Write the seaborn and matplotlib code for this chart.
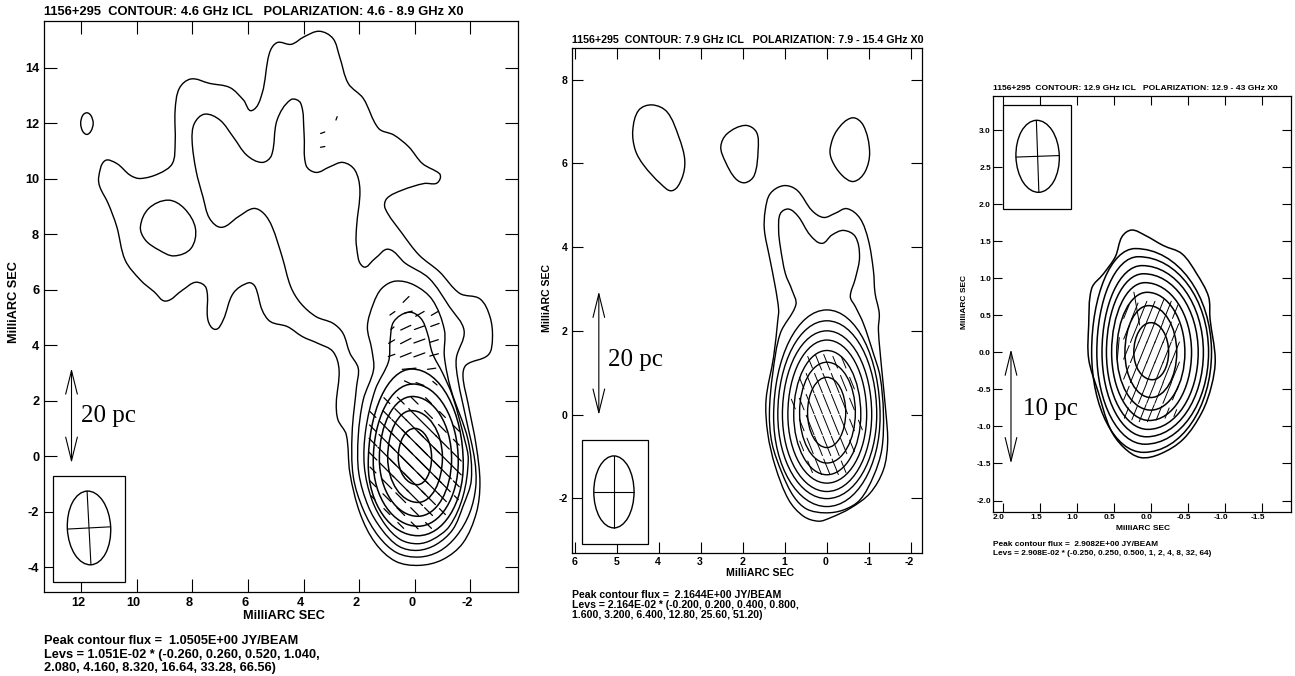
import numpy as np
import pandas as pd
import matplotlib
matplotlib.use("Agg")
import matplotlib.pyplot as plt
import seaborn as sns
from matplotlib.patches import Ellipse, PathPatch, Rectangle
from matplotlib.path import Path
from matplotlib.transforms import ScaledTranslation

# contour outlines, (x mas, y mas)
p1_outer = [(11.37,10.07),(11.15,10.65),(10.72,10.55),(10.24,10.13),(9.87,10.01),(9.20,10.19),(8.72,10.55),
    (8.62,11.27),(8.62,12.48),(8.47,13.26),(8.05,13.60),(7.38,13.44),(6.65,13.29),(6.16,12.84),(5.86,12.46),
    (5.49,13.08),(5.23,14.52),(4.95,14.91),(4.44,14.85),(3.98,15.12),(3.43,15.32),(2.94,15.06),(2.70,14.40),
    (2.39,13.44),(1.85,12.90),(1.30,11.82),(0.75,11.58),(0.21,11.15),(-0.28,10.55),(-0.89,10.19),(-0.92,10.01),
    (-0.77,9.83),(-0.34,9.83),(0.45,9.59),(1.00,9.29),(1.06,8.93),(0.45,8.03),(-0.16,7.25),(-0.89,6.65),
    (-1.62,5.87),(-2.35,5.67),(-2.71,5.03),(-2.80,4.25),(-2.65,3.65),(-1.86,3.29),(-1.74,2.87),(-1.92,1.91),
    (-2.22,0.35),(-2.35,-0.97),(-2.22,-2.05),(-1.74,-3.13),(-1.01,-3.73),(-0.16,-3.94),(0.69,-3.79),(1.42,-3.13),
    (1.97,-2.05),(2.33,-0.61),(2.46,0.77),(2.76,1.31),(2.82,1.91),(2.72,3.11),(2.94,3.77),(3.49,4.07),(4.04,4.31),
    (4.58,4.67),(5.19,4.85),(5.49,5.27),(5.74,6.11),(5.98,6.25),(6.53,5.87),(6.89,4.91),(7.17,4.57),(7.44,4.91),
    (7.50,6.05),(7.87,6.27),(8.35,5.99),(8.96,5.59),(9.38,5.93),(9.87,6.35),(10.42,7.07),(10.72,8.27),(11.03,9.11),
    (11.33,9.71)]
p1_second = [(8.01,11.39),(7.93,11.99),(7.56,12.33),(7.01,12.12),(6.53,11.51),(6.04,10.85),(5.49,10.59),(5.15,10.85),
    (4.95,12.12),(4.46,12.85),(4.10,12.72),(3.98,11.64),(3.91,10.49),(3.55,10.23),(3.06,10.43),(2.58,10.59),
    (2.15,10.31),(1.97,9.59),(2.09,8.27),(2.09,7.55),(1.85,6.83),(1.42,7.13),(0.94,7.46),(0.33,6.95),(-0.52,6.41),
    (-1.25,5.39),(-1.78,4.52),(-1.50,3.53),(-1.56,2.75),(-1.86,1.31),(-2.16,-0.13),(-2.20,-1.09),
    (-1.98,-2.05),(-1.50,-2.89),(-0.89,-3.43),(-0.16,-3.64),(0.63,-3.49),(1.30,-2.89),(1.85,-1.93),(2.21,-0.73),
    (2.25,0.83),(2.09,2.51),(2.03,3.17),(2.33,3.71),(2.58,4.43),(2.94,4.79),(3.55,5.03),(4.10,5.51),(4.46,6.11),
    (4.77,7.19),(5.13,8.27),(5.43,8.75),(5.80,8.93),(6.35,8.63),(6.95,8.25),(7.38,8.57),(7.62,9.35),(7.87,10.31)]
p1_third = [(0.69,6.31),(0.02,6.17),(-0.64,5.63),(-1.07,4.55),(-1.07,3.59),(-1.31,2.39),(-1.92,0.59),(-2.04,-0.85),
    (-1.74,-1.81),(-1.37,-2.65),(-0.77,-3.19),(-0.10,-3.40),(0.57,-3.25),(1.18,-2.65),(1.67,-1.81),(2.01,-0.61),
    (2.03,0.71),(1.85,2.03),(1.48,3.11),(1.54,3.83),(1.70,4.67),(1.48,5.51),(1.18,6.05)]
p1_fourth = [(0.21,5.19),(-0.22,4.97),(-0.46,4.43),(-0.64,3.71),(-1.01,2.99),(-1.37,2.15),(-1.80,0.59),(-1.93,-0.13),
    (-1.74,-1.45),(-1.25,-2.53),(-0.64,-3.01),(-0.10,-3.16),(0.51,-3.01),(1.06,-2.47),(1.54,-1.57),(1.81,-0.37),
    (1.76,0.95),(1.42,2.39),(0.94,3.41),(0.88,4.19),(0.75,4.85)]
p1_blob = [(9.87,8.27),(9.57,8.93),(8.87,9.23),(8.29,8.93),(7.89,8.21),(8.05,7.49),(8.66,7.22),(9.20,7.43),(9.69,7.79)]
p1_speck = [(12.02,12.0),(11.95,12.28),(11.8,12.38),(11.65,12.28),(11.57,12.0),(11.65,11.72),(11.8,11.6),(11.95,11.72)]

p2_outer = [(1.47,4.88),(1.35,5.28),(1.03,5.47),(0.71,5.36),(0.36,4.88),(0.08,4.71),(-0.20,4.81),(-0.48,4.92),(-0.79,4.69),
    (-0.99,4.17),(-1.11,3.45),(-1.15,2.90),(-1.25,2.42),(-1.23,2.02),(-1.31,1.07),(-1.41,0.03),(-1.45,-0.68),(-1.35,-1.32),
    (-1.03,-1.88),(-0.56,-2.24),(-0.08,-2.47),(0.20,-2.55),(0.56,-2.43),(0.91,-2.04),(1.23,-1.24),(1.41,-0.45),(1.45,0.35),
    (1.27,1.38),(1.17,2.26),(1.15,2.50),(1.23,3.05),(1.37,3.77),(1.49,4.41)]
p2_second = [(1.15,4.41),(1.11,4.80),(0.91,4.91),(0.68,4.73),(0.40,4.29),(0.12,4.09),(-0.12,4.29),(-0.40,4.40),(-0.68,4.25),
    (-0.78,3.77),(-0.68,3.25),(-0.56,2.82),(-0.68,2.58),(-0.87,2.18),(-1.11,1.46),(-1.27,0.91),(-1.35,0.03),(-1.31,-0.84),
    (-1.11,-1.48),(-0.79,-2.04),(-0.40,-2.28),(0.04,-2.35),(0.48,-2.26),(0.79,-1.96),(1.07,-1.40),(1.31,-0.68),(1.37,0.03),
    (1.29,0.99),(1.11,1.94),(0.74,2.62),(0.83,2.97),(0.99,3.37),(1.11,4.01)]
p2_blob_a = [(4.63,6.79),(4.49,7.27),(4.17,7.40),(3.81,7.23),(3.53,6.63),(3.39,6.08),(3.46,5.64),(3.69,5.35),(3.97,5.52),(4.37,5.96),(4.57,6.32)]
p2_blob_b = [(2.53,6.40),(2.38,6.71),(1.95,6.91),(1.68,6.75),(1.64,6.32),(1.73,5.72),(1.95,5.54),(2.18,5.64),(2.42,6.04)]
p2_blob_c = [(-0.08,6.36),(-0.24,6.79),(-0.60,7.09),(-0.87,6.91),(-1.02,6.28),(-0.91,5.80),(-0.64,5.57),(-0.36,5.72),(-0.12,6.08)]

p3_outer = [(0.84,0.36),(0.80,0.86),(0.64,1.06),(0.48,1.29),(0.39,1.56),(0.26,1.65),(0.08,1.58),(-0.17,1.44),(-0.42,1.33),
    (-0.62,1.06),(-0.78,0.75),(-0.80,0.45),(-0.87,-0.09),(-0.82,-0.45),(-0.69,-0.81),(-0.44,-1.17),(-0.13,-1.37),(0.14,-1.42),
    (0.37,-1.28),(0.55,-1.03),(0.71,-0.54),(0.84,-0.09)]

# inner, nearly elliptical contours: extents of each ring
p1_top_y = [1.0, 1.64, 2.15, 2.6, 3.14]
p1_top_x = [0.0, 0.12, 0.08, 0.06, 0.1]
p1_bot_y = [-1.03, -1.67, -2.17, -2.53, -2.87]
p1_bot_x = [-0.1, -0.12, -0.12, -0.12, -0.12]
p1_left = [0.59, 0.97, 1.27, 1.49, 1.67]
p1_right = [-0.61, -1.0, -1.33, -1.57, -1.75]
p1_mid = [-0.05, -0.05, -0.1, -0.2, -0.3]

p2_top_y = [0.89, 1.25, 1.53, 1.78, 2.0, 2.24, 2.5]
p2_top_x = [0.0, 0.0, 0.0, 0.0, 0.0, 0.0, 0.0]
p2_bot_y = [-0.79, -1.16, -1.44, -1.64, -1.84, -2.01, -2.2]
p2_bot_x = [0.0, 0.0, 0.0, 0.0, 0.0, 0.0, 0.0]
p2_left = [0.46, 0.65, 0.79, 0.93, 1.06, 1.17, 1.27]
p2_right = [-0.45, -0.68, -0.81, -0.95, -1.07, -1.19, -1.27]
p2_mid = [0.05, 0.05, 0.0, 0.0, 0.0, 0.0, -0.05]

p3_top_y = [0.40, 0.63, 0.81, 0.94, 1.06, 1.17, 1.29, 1.40]
p3_top_x = [0.0, 0.03, 0.05, 0.08, 0.10, 0.12, 0.17, 0.21]
p3_bot_y = [-0.37, -0.61, -0.78, -0.92, -1.04, -1.14, -1.24, -1.35]
p3_bot_x = [-0.02, 0.0, 0.0, 0.02, 0.04, 0.06, 0.08, 0.10]
p3_left = [0.23, 0.35, 0.46, 0.53, 0.60, 0.66, 0.73, 0.80]
p3_right = [-0.24, -0.35, -0.46, -0.55, -0.64, -0.71, -0.78, -0.82]
p3_mid = [0.0, 0.0, 0.0, 0.0, 0.0, 0.0, 0.0, 0.0]

# polarization sticks: grid of lengths, one angle
p1_pol_xs = [1.5, 1, 0.5, 0, -0.5, -1, -1.5]
p1_pol_ys = [2, 1.5, 1, 0.5, 0, -0.5, -1, -1.5, -2, -2.5]
p1_pol_len = [[0,0.3,0.35,0.35,0.3,0,0],[0.3,0.4,0.6,0.6,0.4,0.3,0],[0.35,0.7,0.9,0.9,0.8,0.4,0.3],[0.4,0.8,1.2,1.3,1.1,0.7,0.3],
    [0.4,0.9,1.3,1.5,1.3,0.9,0.5],[0.3,0.7,1.1,1.4,1.3,0.9,0.5],[0.3,0.5,0.8,1.1,1.1,0.8,0.3],[0.2,0.4,0.5,0.8,0.7,0.4,0.2],
    [0,0.3,0.4,0.4,0.4,0.3,0],[0,0,0.3,0.35,0.3,0,0]]
p1_pol_angle = -45
# the separate upper sticks of the first map: x, y, length, angle
p1_sticks = [(0.31,5.65,0.3,45),(0.80,5.15,0.22,35),(0.23,5.19,0.3,15),(-0.19,5.13,0.35,30),(-0.73,5.15,0.3,30),
    (0.32,4.63,0.4,25),(-0.17,4.63,0.38,20),(-0.73,4.73,0.32,20),(0.80,4.61,0.15,40),(0.32,4.15,0.42,27),(-0.17,4.15,0.42,20),
    (-0.70,4.15,0.32,18),(0.83,4.13,0.25,30),(0.32,3.65,0.42,22),(-0.17,3.65,0.42,20),(-0.70,3.65,0.32,15),(0.83,3.63,0.25,20),
    (0.20,3.15,0.5,5),(-0.61,3.15,0.3,8),(0.23,2.65,0.3,-25),(-0.19,2.60,0.3,-20),(-0.73,2.63,0.2,-40),
    (2.81,12.18,0.13,70),(3.31,11.66,0.16,20),(3.31,11.15,0.16,10)]

p2_pol_xs = [0.8, 0.6, 0.4, 0.2, 0, -0.2, -0.4, -0.6, -0.8]
p2_pol_ys = [1.25, 0.75, 0.25, -0.25, -0.75, -1.25]
p2_pol_len = [[0,0,0.3,0.4,0.4,0.3,0.3,0,0],[0,0.3,0.5,0.5,0.5,0.5,0.4,0.3,0],[0.25,0.3,0.5,0.5,0.5,0.5,0.5,0.3,0],
    [0,0.3,0.5,0.5,0.5,0.5,0.5,0.3,0.25],[0,0.25,0.4,0.5,0.5,0.5,0.4,0.3,0],[0,0,0.3,0.4,0.4,0.4,0.3,0,0]]
p2_pol_angle = -68

p3_pol_xs = [0.33, 0.22, 0.11, 0, -0.11, -0.22, -0.33]
p3_pol_ys = [0.55, 0.27, 0, -0.27, -0.55, -0.82]
p3_pol_len = [[0.2,0.25,0.3,0.3,0.35,0.3,0.2],[0.2,0.3,0.3,0.3,0.3,0.3,0.25],[0.2,0.3,0.3,0.3,0.3,0.3,0.3],
    [0.2,0.3,0.3,0.3,0.3,0.3,0.3],[0.2,0.3,0.3,0.3,0.3,0.3,0.2],[0.15,0.2,0.25,0.25,0.2,0.15,0.1]]
p3_pol_angle = 68
p3_sticks = [(0.19,0.59,0.45,-80),(0.44,0.05,0.3,85)]

titles = ["1156+295  CONTOUR: 4.6 GHz ICL   POLARIZATION: 4.6 - 8.9 GHz X0",
          "1156+295  CONTOUR: 7.9 GHz ICL   POLARIZATION: 7.9 - 15.4 GHz X0",
          "1156+295  CONTOUR: 12.9 GHz ICL   POLARIZATION: 12.9 - 43 GHz X0"]
footers = [["Peak contour flux =  1.0505E+00 JY/BEAM", "Levs = 1.051E-02 * (-0.260, 0.260, 0.520, 1.040,", "2.080, 4.160, 8.320, 16.64, 33.28, 66.56)"],
           ["Peak contour flux =  2.1644E+00 JY/BEAM", "Levs = 2.164E-02 * (-0.200, 0.200, 0.400, 0.800,", "1.600, 3.200, 6.400, 12.80, 25.60, 51.20)"],
           ["Peak contour flux =  2.9082E+00 JY/BEAM", "Levs = 2.908E-02 * (-0.250, 0.250, 0.500, 1, 2, 4, 8, 32, 64)"]]
x_ticks = [[12,10,8,6,4,2,0,-2], [6,5,4,3,2,1,0,-1,-2], [2.0,1.5,1.0,0.5,0.0,-0.5,-1.0,-1.5]]
y_ticks = [[-4,-2,0,2,4,6,8,10,12,14], [-2,0,2,4,6,8], [-2.0,-1.5,-1.0,-0.5,0.0,0.5,1.0,1.5,2.0,2.5,3.0]]

sns.set_theme(style="ticks")
plt.rcParams['font.family'] = ['Liberation Sans', 'DejaVu Sans']
plt.rcParams['font.weight'] = 'bold'

W, H = 1295, 676
fig = plt.figure(figsize=(W / 100, H / 100), dpi=100)


def add_panel(box, xlim, ylim):
    # box is left, top, right, bottom in pixels
    l, t, r, b = box
    ax = fig.add_axes([l / W, 1 - b / H, (r - l) / W, (b - t) / H])
    ax.set_xlim(xlim)
    ax.set_ylim(ylim)
    return ax


def smooth(ax, pts, lw):
    # closed outline as bezier segments through the read points,
    # handles follow the neighbour direction and the segment length
    p = np.array(pts, dtype=float)
    n = len(p)
    tang = []
    for i in range(n):
        d = p[(i + 1) % n] - p[i - 1]
        tang.append(d / np.hypot(*d))
    verts = [p[0]]
    codes = [Path.MOVETO]
    for i in range(n):
        j = (i + 1) % n
        seg = np.hypot(*(p[j] - p[i]))
        verts += [p[i] + tang[i] * seg / 3, p[j] - tang[j] * seg / 3, p[j]]
        codes += [Path.CURVE4] * 3
    ax.add_patch(PathPatch(Path(verts, codes), fc="none", ec="black", lw=lw, zorder=3))


def rings(ax, top_y, top_x, bot_y, bot_x, left, right, mid, lw):
    k = 0.5523
    for ty, tx, by, bx, xl, xr, ym in zip(top_y, top_x, bot_y, bot_x, left, right, mid):
        verts = [(xl, ym),
                 (xl, ym + k * (ty - ym)), (tx + k * (xl - tx), ty), (tx, ty),
                 (tx + k * (xr - tx), ty), (xr, ym + k * (ty - ym)), (xr, ym),
                 (xr, ym + k * (by - ym)), (bx + k * (xr - bx), by), (bx, by),
                 (bx + k * (xl - bx), by), (xl, ym + k * (by - ym)), (xl, ym)]
        codes = [Path.MOVETO] + [Path.CURVE4] * 12
        ax.add_patch(PathPatch(Path(verts, codes), fc="none", ec="black", lw=lw, zorder=3))


def sticks(ax, rows, lw):
    # rows: x, y, length, angle (angle as seen on the page, x axis runs backwards)
    recs = []
    for i, (x, y, ln, a) in enumerate(rows):
        dx = -np.cos(np.radians(a)) * ln / 2
        dy = np.sin(np.radians(a)) * ln / 2
        recs += [dict(seg=i, x=x - dx, y=y - dy), dict(seg=i, x=x + dx, y=y + dy)]
    sns.lineplot(data=pd.DataFrame(recs), x="x", y="y", units="seg", estimator=None, sort=False,
                 color="black", lw=lw, legend=False, ax=ax, zorder=2)


def grid_rows(xs, ys, lens, angle):
    return [(x, y, lens[j][i], angle) for j, y in enumerate(ys) for i, x in enumerate(xs) if lens[j][i] > 0]


def beam(ax, box, centre, minor, major, tilt):
    x0, x1, y0, y1 = box
    ax.add_patch(Rectangle((x1, y0), x0 - x1, y1 - y0, fc="white", ec="black", lw=0.9, zorder=4))
    ax.add_patch(Ellipse(centre, 2 * minor, 2 * major, angle=tilt, fc="none", ec="black", lw=1.0, zorder=5))
    s, c = np.sin(np.radians(tilt)), np.cos(np.radians(tilt))
    cross = pd.DataFrame(dict(seg=[0, 0, 1, 1],
                              x=[centre[0] + s * major, centre[0] - s * major, centre[0] - c * minor, centre[0] + c * minor],
                              y=[centre[1] - c * major, centre[1] + c * major, centre[1] - s * minor, centre[1] + s * minor]))
    sns.lineplot(data=cross, x="x", y="y", units="seg", estimator=None, sort=False, color="black",
                 lw=0.8, legend=False, ax=ax, zorder=5)


def finish(ax, idx, xt, yt, fmt, size, ticklen, shift, pad, xlab_px, ylab_px, title_y, foot_y, foot_x, title_size, foot_size):
    ax.set_xticks(xt)
    ax.set_yticks(yt)
    ax.set_xticklabels([fmt.format(v) for v in xt])
    ax.set_yticklabels([fmt.format(v) for v in yt])
    ax.tick_params(direction="in", length=ticklen, width=0.8, top=True, right=True, labelsize=size, color="black",
                   labelcolor="black", pad=pad)
    ax.set_xlabel("")
    ax.set_ylabel("")
    offset = ScaledTranslation(-shift / 100, 0, fig.dpi_scale_trans)
    for lab in ax.get_xticklabels():
        lab.set_transform(lab.get_transform() + offset)
    for sp in ax.spines.values():
        sp.set_visible(True)
        sp.set_linewidth(0.9)
        sp.set_color("black")
    fig.text(xlab_px[0] / W, 1 - xlab_px[1] / H, "MilliARC SEC", ha="center", va="center", fontsize=size, color="black")
    fig.text(ylab_px[0] / W, 1 - ylab_px[1] / H, "MilliARC SEC", ha="center", va="center", rotation=90, fontsize=size, color="black")
    fig.text(foot_x / W, 1 - title_y / H, titles[idx], ha="left", va="center", fontsize=title_size, color="black")
    for line, y in zip(footers[idx], foot_y):
        fig.text(foot_x / W, 1 - y / H, line, ha="left", va="center", fontsize=foot_size, color="black")


def scale_bar(ax, x, y0, y1, tx, ty, label):
    ax.annotate("", xy=(x, y0), xytext=(x, y1),
                arrowprops=dict(arrowstyle="<->,head_length=1.7,head_width=0.42", mutation_scale=10, lw=0.8,
                                color="black", shrinkA=0, shrinkB=0))
    ax.text(tx, ty, label, family="Liberation Serif", fontweight="normal", fontsize=18, ha="left", va="center", color="black")


# map 1
ax1 = add_panel((44, 21, 518, 592), (13.34, -3.72), (-4.90, 15.69))
for c in [p1_outer, p1_second, p1_third, p1_fourth, p1_blob, p1_speck]:
    smooth(ax1, c, 1.0)
rings(ax1, p1_top_y, p1_top_x, p1_bot_y, p1_bot_x, p1_left, p1_right, p1_mid, 1.1)
sticks(ax1, grid_rows(p1_pol_xs, p1_pol_ys, p1_pol_len, p1_pol_angle) + p1_sticks, 0.9)
beam(ax1, (13.0, 10.43, -4.55, -0.71), (11.72, -2.59), 0.78, 1.33, -3)
scale_bar(ax1, 12.35, 3.17, -0.25, 12.02, 1.43, "20 pc")
ax1.set_xlim(13.34, -3.72)
ax1.set_ylim(-4.90, 15.69)
finish(ax1, 0, x_ticks[0], y_ticks[0], "{:d}", 9.2, 9.6, 3, 3.5, (284, 616), (14, 302), 11.7, (641.5, 655, 668), 44, 9.3, 9.2)

# map 2
ax2 = add_panel((572, 48, 922, 553), (6.08, -2.27), (-3.31, 8.76))
for c in [p2_outer, p2_second, p2_blob_a, p2_blob_b, p2_blob_c]:
    smooth(ax2, c, 1.0)
rings(ax2, p2_top_y, p2_top_x, p2_bot_y, p2_bot_x, p2_left, p2_right, p2_mid, 1.0)
sticks(ax2, grid_rows(p2_pol_xs, p2_pol_ys, p2_pol_len, p2_pol_angle), 0.7)
beam(ax2, (5.85, 4.27, -3.09, -0.60), (5.08, -1.85), 0.48, 0.86, 0)
scale_bar(ax2, 5.44, 2.94, -0.01, 5.22, 1.30, "20 pc")
ax2.set_xlim(6.08, -2.27)
ax2.set_ylim(-3.31, 8.76)
finish(ax2, 1, x_ticks[1], y_ticks[1], "{:d}", 7.6, 8, 1, 3, (760, 573), (547, 298), 40, (594.5, 604.5, 615.5), 572, 7.65, 7.6)

# map 3
ax3 = add_panel((993, 96, 1291, 512), (2.133, -1.894), (-2.155, 3.459))
smooth(ax3, p3_outer, 1.1)
rings(ax3, p3_top_y, p3_top_x, p3_bot_y, p3_bot_x, p3_left, p3_right, p3_mid, 1.1)
sticks(ax3, grid_rows(p3_pol_xs, p3_pol_ys, p3_pol_len, p3_pol_angle) + p3_sticks, 0.7)
beam(ax3, (2.0, 1.076, 1.94, 3.34), (1.53, 2.645), 0.293, 0.486, -2)
scale_bar(ax3, 1.89, 0.04, -1.50, 1.73, -0.76, "10 pc")
ax3.set_xlim(2.133, -1.894)
ax3.set_ylim(-2.155, 3.459)
finish(ax3, 2, x_ticks[2], y_ticks[2], "{:.1f}", 6.0, 6.5, 4, 1.5, (1143, 528), (964, 302), 89, (544, 553.5), 993, 6.1, 5.95)

fig.savefig("out.png", dpi=100, facecolor="white")
